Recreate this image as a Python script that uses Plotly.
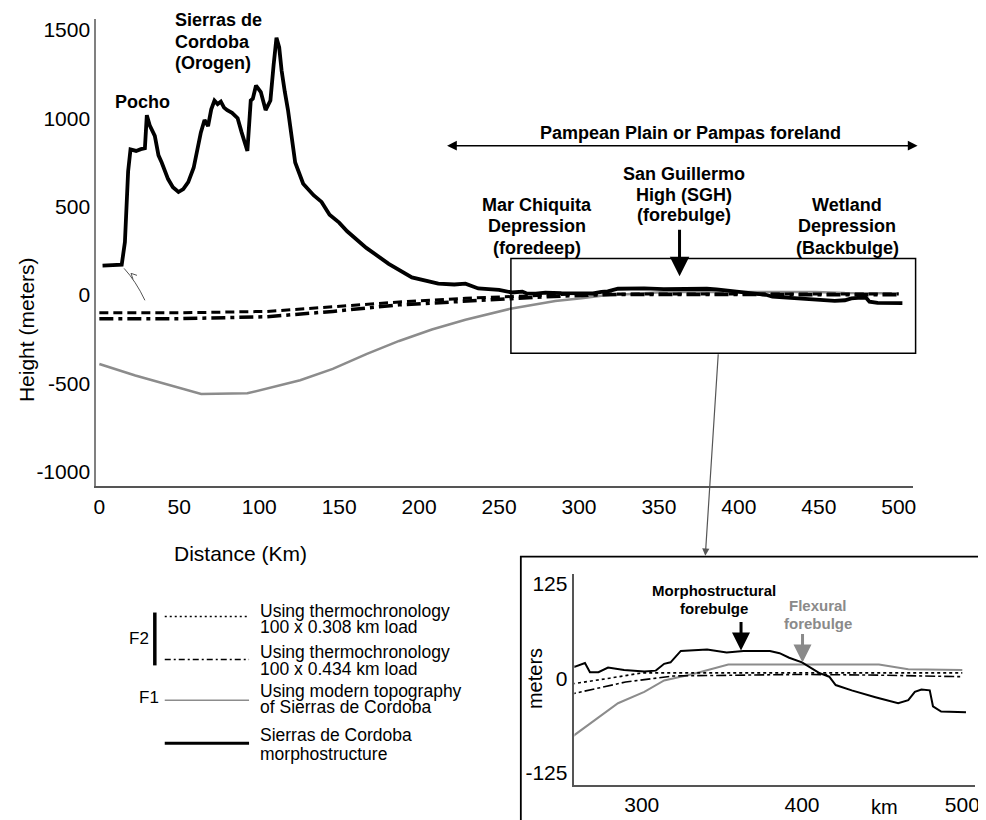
import plotly.graph_objects as go

W, H = 986, 820
OFF = 8  # the page body has an 8px margin; positions below are page pixels


def X(p):
    return (p - OFF) / W


def Y(p):
    return 1 - (p - OFF) / H


# ---------------- data ----------------
# Sierras de Cordoba morphostructure (km, m)
morph_km = [2, 8, 14, 16, 18, 19.5, 23, 26, 28.5, 29.7, 31.5, 34.7, 37, 39, 43, 46, 49.5,
            52.5, 55.6, 59, 61.7, 63.5, 65.8, 68, 70, 72, 74, 76, 78, 80, 83, 86.5, 89,
            92.6, 94.7, 96, 98, 101, 104, 107, 109, 110.8, 112.5, 114, 116, 118, 122.5,
            127.5, 134, 137, 139, 144, 150, 155, 167, 181, 195.5, 212, 222, 229, 237, 250,
            258, 264.6, 267.7, 273, 279, 289, 301.6, 308.8, 314, 318, 324.4, 330.5, 340.8,
            353, 363.5, 380, 386, 392, 400, 410.6, 417, 421, 431, 445.8, 460, 466.3, 470.4,
            474.5, 479.7, 481.7, 486.8, 502.3]
morph_m = [167, 168, 172, 300, 700, 824, 815, 825, 830, 1017, 960, 900, 790, 750, 656, 610,
           583, 600, 639, 720, 843, 920, 990, 955, 1050, 1100, 1080, 1094, 1060, 1045, 1030,
           1000, 920, 815, 1100, 1110, 1185, 1148, 1046, 1100, 1300, 1455, 1400, 1270, 1150,
           1046, 750, 630, 565, 540, 527, 454, 410, 361, 267, 177, 100, 65, 60, 65, 38, 30,
           15, 20, 8, 8, 14, 11, 9, 10, 19, 21, 36, 37, 38, 34, 36, 36, 33, 27, 21, 7, 2,
           -9, -16, -25, -33, -29, -18, -15, -16, -37, -44, -45]

# F1: using modern topography of Sierras de Cordoba
f1_km = [0, 22.5, 63.7, 92.6, 125.6, 146, 167, 187.5, 208, 229, 258, 270.7, 285.2, 301.6,
         314, 332.6, 354, 448, 466.3, 500]
f1_m = [-389, -454, -559, -555, -481, -417, -333, -259, -194, -139, -75, -55, -33, -18,
        -3, 6, 18, 18, 12, 11]

# F2: thermochronology 100 x 0.308 km load
f2a_km = [0, 50, 105, 146, 187.5, 229, 258, 280, 300, 350, 400, 450, 500]
f2a_m = [-100, -100, -92, -67, -39, -18, -7, 0, 7, 7, 7, 7, 7]

# F2: thermochronology 100 x 0.434 km load
f2b_km = [0, 50, 105, 146, 187.5, 229, 258, 290, 320, 350, 400, 450, 500]
f2b_m = [-133, -133, -122, -92, -55, -32, -20, -5, 3, 4, 5, 4, 2]

main_xticks = [0, 50, 100, 150, 200, 250, 300, 350, 400, 450, 500]
main_yticks = [-1000, -500, 0, 500, 1000, 1500]
main_yticklabels = ["-1000", "-500", "0", "500", "1000", "1500"]
inset_xticks = [300, 400, 500]
inset_yticks = [-125, 0, 125]
inset_yticklabels = ["-125", "0", "125"]

FONT = "Liberation Sans, Arial, sans-serif"
GRAY = "#8c8c8c"

fig = go.Figure()

# ---------- main panel ----------
fig.add_trace(go.Scatter(x=f1_km, y=f1_m, mode="lines", xaxis="x", yaxis="y",
                         line=dict(color=GRAY, width=2.5), showlegend=False))
fig.add_trace(go.Scatter(x=f2a_km, y=f2a_m, mode="lines", xaxis="x", yaxis="y",
                         line=dict(color="black", width=3, dash="9px,5px"), showlegend=False))
fig.add_trace(go.Scatter(x=f2b_km, y=f2b_m, mode="lines", xaxis="x", yaxis="y",
                         line=dict(color="black", width=3.5, dash="14px,5px,4px,5px"),
                         showlegend=False))
fig.add_trace(go.Scatter(x=morph_km, y=morph_m, mode="lines", xaxis="x", yaxis="y",
                         line=dict(color="black", width=3.8), showlegend=False))

# ---------- inset panel ----------
fig.add_trace(go.Scatter(x=f1_km, y=f1_m, mode="lines", xaxis="x2", yaxis="y2",
                         line=dict(color=GRAY, width=2), showlegend=False))
fig.add_trace(go.Scatter(x=f2a_km, y=f2a_m, mode="lines", xaxis="x2", yaxis="y2",
                         line=dict(color="black", width=1.6, dash="3px,3px"), showlegend=False))
fig.add_trace(go.Scatter(x=f2b_km, y=f2b_m, mode="lines", xaxis="x2", yaxis="y2",
                         line=dict(color="black", width=1.6, dash="10px,3px,3px,3px"),
                         showlegend=False))
fig.add_trace(go.Scatter(x=morph_km, y=morph_m, mode="lines", xaxis="x2", yaxis="y2",
                         line=dict(color="black", width=2), showlegend=False))

axis_common = dict(showgrid=False, zeroline=False, ticks="", showline=True)

fig.update_layout(
    width=W, height=H,
    margin=dict(l=0, r=0, t=0, b=0),
    paper_bgcolor="white", plot_bgcolor="white",
    font=dict(family=FONT, color="black"),
    xaxis=dict(domain=[X(94), X(917)], range=[-1.9, 508.7], tickvals=main_xticks,
               linecolor="#555555", linewidth=2, tickfont=dict(size=21),
               ticklabelstandoff=1, anchor="y", **axis_common),
    yaxis=dict(domain=[Y(485), Y(17)], range=[-1078, 1561], tickvals=main_yticks,
               ticktext=main_yticklabels,
               linecolor="#808080", linewidth=2, tickfont=dict(size=21),
               ticklabelstandoff=0, anchor="x", **axis_common),
    xaxis2=dict(domain=[X(576), X(980)], range=[258, 508], tickvals=inset_xticks,
                linecolor="#555555", linewidth=1.5, tickfont=dict(size=21),
                ticklabelstandoff=0, anchor="y2", **axis_common),
    yaxis2=dict(domain=[Y(785), Y(573)], range=[-141, 138], tickvals=inset_yticks,
                ticktext=inset_yticklabels,
                linecolor="#555555", linewidth=1.5, tickfont=dict(size=21),
                ticklabelstandoff=1, anchor="x2", **axis_common),
)

ann = []


def text(px, py, s, size, bold=False, color="black", xanchor="center", angle=0):
    ann.append(dict(x=X(px), y=Y(py), xref="paper", yref="paper", showarrow=False,
                    text=("<b>%s</b>" % s) if bold else s, xanchor=xanchor, yanchor="middle",
                    textangle=angle, font=dict(size=size, color=color, family=FONT)))


def lines(px, ys, strs, size, bold=False, color="black", xanchor="center"):
    for yy, s in zip(ys, strs):
        text(px, yy, s, size, bold, color, xanchor)


def arrow(x1, y1, x0, y0, color="black", width=3, head=2, size=1.2, side="end"):
    ann.append(dict(x=X(x1), y=Y(y1), xref="paper", yref="paper", showarrow=True,
                    ax=x0 - x1, ay=y0 - y1, axref="pixel", ayref="pixel", text="",
                    arrowcolor=color, arrowwidth=width, arrowhead=head, arrowsize=size,
                    startarrowhead=head, startarrowsize=size, arrowside=side, standoff=0,
                    startstandoff=0))


# axis titles
text(23, 328, "Height (meters)", 21, angle=-90)
text(239, 553, "Distance (Km)", 21)
text(537, 678, "meters", 20, angle=-90)
text(889, 807, "km", 20)

# main annotations
text(141, 100, "Pocho", 18, bold=True)
lines(171, [18, 40, 61], ["Sierras de", "Cordoba", "(Orogen)"], 18, bold=True, xanchor="left")
text(693, 131, "Pampean Plain or Pampas foreland", 18, bold=True)
arrow(922, 144, 450, 144, width=1.5, head=2, size=1.3, side="end+start")
lines(538, [203, 225, 247], ["Mar Chiquita", "Depression", "(foredeep)"], 18, bold=True)
lines(687, [172, 193, 213], ["San Guillermo", "High (SGH)", "(forebulge)"], 18, bold=True)
arrow(682, 275, 682, 227, width=3, head=2, size=1.3)
lines(851, [203, 225, 247], ["Wetland", "Depression", "(Backbulge)"], 18, bold=True)
arrow(708, 555, 721, 352, color="#555555", width=1.2, head=2, size=1.2)

# inset annotations
lines(717, [590, 608], ["Morphostructural", "forebulge"], 15, bold=True)
arrow(744, 650, 744, 620, width=3, head=2, size=1.2)
lines(822, [605, 623], ["Flexural", "forebulge"], 15, bold=True, color="#8a8a8a")
arrow(806, 662, 806, 632, color="#8a8a8a", width=3, head=2, size=1.2)

# legend text
text(137, 638, "F2", 17)
text(147, 697, "F1", 17)
lines(257, [610, 627], ["Using thermochronology", "100 x 0.308 km load"], 17.5, xanchor="left")
lines(257, [652, 669], ["Using thermochronology", "100 x 0.434 km load"], 17.5, xanchor="left")
lines(257, [691, 707], ["Using modern topography", "of Sierras de Cordoba"], 17.5, xanchor="left")
lines(257, [735, 754], ["Sierras de Cordoba", "morphostructure"], 17.5, xanchor="left")

fig.update_layout(annotations=ann)

shapes = []


def pline(x0, y0, x1, y1, color="black", width=1.5, dash="solid"):
    shapes.append(dict(type="line", xref="paper", yref="paper", x0=X(x0), y0=Y(y0),
                       x1=X(x1), y1=Y(y1), line=dict(color=color, width=width, dash=dash)))


def prect(x0, y0, x1, y1, width=1.5):
    shapes.append(dict(type="rect", xref="paper", yref="paper", x0=X(x0), y0=Y(y0),
                       x1=X(x1), y1=Y(y1), line=dict(color="black", width=width),
                       fillcolor="rgba(0,0,0,0)"))


# zoom box on main chart and inset frame
prect(512, 257, 920, 352, width=1.5)
prect(522, 556, 984, 835, width=1.8)

# legend samples
pline(153, 612, 153, 665, width=3.5)
pline(163, 616, 248, 616, width=1.5, dash="2px,3px")
pline(163, 659, 248, 659, width=1.5, dash="6px,3px,2px,3px")
pline(163, 700, 248, 700, color=GRAY, width=1.5)
pline(163, 743, 248, 743, width=3)

# fault symbol near the range front
shapes.append(dict(type="path", xref="paper", yref="paper",
                   path="M %f,%f Q %f,%f %f,%f" % (X(122), Y(267), X(134), Y(280), X(143), Y(299)),
                   line=dict(color="#555555", width=1)))
pline(129, 272, 135, 274, color="#555555", width=1)
pline(129, 272, 131, 278, color="#555555", width=1)

fig.update_layout(shapes=shapes)

fig.write_html("out.html")
